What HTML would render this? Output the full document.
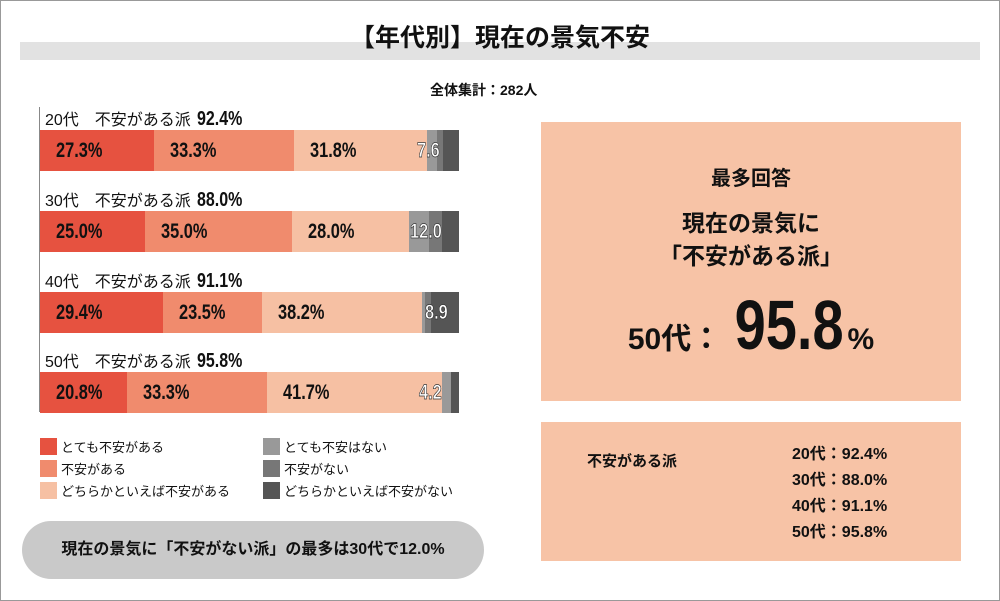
<!DOCTYPE html>
<html><head><meta charset="utf-8"><style>
body{margin:0;width:1000px;height:601px;background:#fff;position:relative;overflow:hidden;font-family:"Liberation Sans","Noto Sans CJK JP",sans-serif;color:#111}
.a{position:absolute}
.frame{left:0;top:0;width:998px;height:599px;border:1px solid #999}
.lbl{font-size:16px;white-space:nowrap}
.lbl b{font-size:20px;font-weight:bold;display:inline-block;transform:scaleX(0.8);transform-origin:left;margin-left:6px}
.bar{height:41px;display:flex}
.bar div{height:100%;position:relative}
.bar span{position:absolute;left:16px;top:0;font-weight:bold;font-size:21px;line-height:41px;white-space:nowrap;transform:scaleX(0.78);transform-origin:left;z-index:2}
.bar span.w{color:#fff;-webkit-text-stroke:0.7px #333}
.c1{background:#e65240}.c2{background:#f08b6d}.c3{background:#f6c0a3}.g1{background:#999}.g2{background:#777}.g3{background:#555}
.leg{font-size:13px;display:flex;align-items:center;gap:4px;white-space:nowrap}
.sw{width:17px;height:17px;display:inline-block}
</style></head><body>
<div class="a frame"></div>
<div class="a" style="left:20px;top:42px;width:960px;height:18px;background:#e2e2e2"></div>
<div class="a" style="left:0;width:1000px;top:18px;text-align:center;font-size:25px;font-weight:bold">【年代別】現在の景気不安</div>
<div class="a" style="left:430px;top:80px;font-size:14px;font-weight:bold">全体集計：282人</div>

<div class="a" style="left:39px;top:107px;width:1px;height:305px;background:#888"></div>

<div class="a lbl" style="left:45px;top:106px">20代　不安がある派<b>92.4%</b></div>
<div class="a bar" style="left:40px;top:130px;width:419px">
<div class="c1" style="width:114px"><span>27.3%</span></div><div class="c2" style="width:140px"><span>33.3%</span></div><div class="c3" style="width:133px"><span>31.8%</span></div><div class="g1" style="width:10px"><span class="w" style="left:-10px">7.6</span></div><div class="g2" style="width:6px"></div><div class="g3" style="width:16px"></div></div>

<div class="a lbl" style="left:45px;top:187px">30代　不安がある派<b>88.0%</b></div>
<div class="a bar" style="left:40px;top:211px;width:419px">
<div class="c1" style="width:105px"><span>25.0%</span></div><div class="c2" style="width:147px"><span>35.0%</span></div><div class="c3" style="width:117px"><span>28.0%</span></div><div class="g1" style="width:20px"><span class="w" style="left:1px">12.0</span></div><div class="g2" style="width:13px"></div><div class="g3" style="width:17px"></div></div>

<div class="a lbl" style="left:45px;top:268px">40代　不安がある派<b>91.1%</b></div>
<div class="a bar" style="left:40px;top:292px;width:419px">
<div class="c1" style="width:123px"><span>29.4%</span></div><div class="c2" style="width:99px"><span>23.5%</span></div><div class="c3" style="width:160px"><span>38.2%</span></div><div class="g1" style="width:3px"></div><div class="g2" style="width:6px"></div><div class="g3" style="width:28px"><span class="w" style="left:-6px">8.9</span></div></div>

<div class="a lbl" style="left:45px;top:348px">50代　不安がある派<b>95.8%</b></div>
<div class="a bar" style="left:40px;top:372px;width:419px">
<div class="c1" style="width:87px"><span>20.8%</span></div><div class="c2" style="width:140px"><span>33.3%</span></div><div class="c3" style="width:175px"><span>41.7%</span></div><div class="g1" style="width:9px"><span class="w" style="left:-23px">4.2</span></div><div class="g3" style="width:8px"></div></div>

<div class="a leg" style="left:40px;top:437px"><span class="sw c1"></span>とても不安がある</div>
<div class="a leg" style="left:40px;top:459px"><span class="sw c2"></span>不安がある</div>
<div class="a leg" style="left:40px;top:481px"><span class="sw c3"></span>どちらかといえば不安がある</div>
<div class="a leg" style="left:263px;top:437px"><span class="sw g1"></span>とても不安はない</div>
<div class="a leg" style="left:263px;top:459px"><span class="sw g2"></span>不安がない</div>
<div class="a leg" style="left:263px;top:481px"><span class="sw g3"></span>どちらかといえば不安がない</div>

<div class="a" style="left:22px;top:521px;width:462px;height:58px;border-radius:29px;background:#c9c9c9;font-size:16px;font-weight:bold;line-height:58px;text-align:center">現在の景気に「不安がない派」の最多は30代で12.0%</div>

<div class="a" style="left:541px;top:122px;width:420px;height:279px;background:#f7c3a6;text-align:center">
<div style="margin-top:40px;font-size:20px;font-weight:bold">最多回答</div>
<div style="margin-top:16px;font-size:23px;font-weight:bold;line-height:33px">現在の景気に<br>「不安がある派」</div>
<div style="margin-top:12px;font-weight:bold;font-size:30px">50代：<span style="font-size:70px;display:inline-block;transform:scaleX(0.8)">95.8</span><span style="font-size:30px;margin-left:-10px">%</span></div>
</div>

<div class="a" style="left:541px;top:422px;width:420px;height:139px;background:#f7c3a6">
<div class="a" style="left:46px;top:28px;font-size:15px;font-weight:bold">不安がある派</div>
<div class="a" style="left:251px;top:20px;font-size:16px;font-weight:bold;line-height:26px">20代：92.4%<br>30代：88.0%<br>40代：91.1%<br>50代：95.8%</div>
</div>
</body></html>
